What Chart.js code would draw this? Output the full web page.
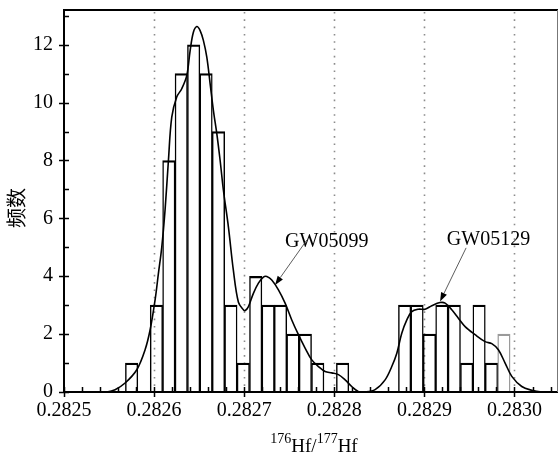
<!DOCTYPE html>
<html>
<head>
<meta charset="utf-8">
<script src="https://cdn.jsdelivr.net/npm/chart.js@4/dist/chart.umd.min.js"></script>
<style>
  html, body { margin: 0; padding: 0; background: #fff; }
  #histChart { display: block; }
</style>
</head>
<body>
<canvas id="histChart" width="559" height="454"></canvas>
<script>
// histogram bins (centres) and counts
const binCenters = [
  0.28257504, 0.28258881, 0.28260259, 0.28261636, 0.28263014, 0.28264391,
  0.28265769, 0.28267146, 0.28268524, 0.28269901, 0.28271278, 0.28272656,
  0.28274033, 0.28275411, 0.28276788, 0.28278166, 0.28279543, 0.28280921,
  0.28282298, 0.28283675, 0.28285053, 0.28286430, 0.28287808, 0.28289185,
  0.28290563, 0.28291940, 0.28293318, 0.28294695, 0.28296072, 0.28297450,
  0.28298827
];
const binCounts = [1, 0, 3, 8, 11, 12, 11, 9, 3, 1, 4, 3, 3, 2, 2, 1, 0, 1, 0, 0, 0, 0, 3, 3, 2, 3, 3, 1, 3, 1, 2];

// smoothed density curve
const curveX = [
  0.2825400, 0.2825475, 0.2825567, 0.2825678, 0.2825808, 0.2825900, 0.2825956, 0.2826011,
  0.2826048, 0.2826085, 0.2826122, 0.2826159, 0.2826196, 0.2826252, 0.2826307, 0.2826363,
  0.2826400, 0.2826436, 0.2826474, 0.2826511, 0.2826547, 0.2826585, 0.2826622, 0.2826658,
  0.2826696, 0.2826733, 0.2826769, 0.2826825, 0.2826880, 0.2826936, 0.2826991, 0.2827010,
  0.2827047, 0.2827102, 0.2827158, 0.2827213, 0.2827251, 0.2827306, 0.2827380, 0.2827454,
  0.2827528, 0.2827602, 0.2827676, 0.2827750, 0.2827824, 0.2827898, 0.2827972, 0.2828046,
  0.2828120, 0.2828194, 0.2828267, 0.2828342, 0.2828453, 0.2828564, 0.2828638, 0.2828694,
  0.2828749, 0.2828805, 0.2828860, 0.2828933, 0.2829008, 0.2829082, 0.2829174, 0.2829230,
  0.2829304, 0.2829377, 0.2829452, 0.2829563, 0.2829674, 0.2829748, 0.2829821, 0.2829896,
  0.2829970, 0.2830081, 0.2830192, 0.2830303, 0.2830400
];
const curveY = [
  0, 0, 0.08, 0.31, 0.77, 1.46, 2.15, 3.18,
  4.1, 5.0, 6.3, 8.0, 9.5, 10.2, 10.48, 10.94,
  11.8, 12.43, 12.63, 12.49, 12.15, 11.57, 10.65, 9.73,
  8.93, 8.0, 6.98, 5.7, 4.2, 3.1, 2.84, 2.81,
  2.95, 3.41, 3.76, 3.97, 3.99, 3.87, 3.53, 3.07,
  2.49, 1.98, 1.52, 1.11, 0.88, 0.71, 0.66, 0.6,
  0.42, 0.19, 0.02, 0, 0.08, 0.42, 0.88, 1.34,
  2.03, 2.49, 2.78, 2.86, 2.86, 2.98, 3.09, 3.07,
  2.84, 2.55, 2.26, 1.98, 1.74, 1.67, 1.46, 1.0,
  0.54, 0.19, 0.06, 0, 0
];

const sampleNames = ['GW05099', 'GW05129'];

// where the sample labels and their arrows sit (data units)
const notes = [
  { text: sampleNames[0], tx: 0.2827454, ty: 5.01, fromX: 0.2827695, fromY: 5.25, toX: 0.2827343, toY: 3.7 },
  { text: sampleNames[1], tx: 0.2829249, ty: 5.08, fromX: 0.2829463, fromY: 4.98, toX: 0.2829174, toY: 3.13 }
];

const serif = '"Liberation Serif", "Times New Roman", serif';

function drawArrow(ctx, x1, y1, x2, y2) {
  const ang = Math.atan2(y2 - y1, x2 - x1);
  const len = 9, half = 3.2;
  const bx = x2 - Math.cos(ang) * len, by = y2 - Math.sin(ang) * len;
  ctx.beginPath();
  ctx.moveTo(x1, y1);
  ctx.lineTo(bx, by);
  ctx.stroke();
  ctx.beginPath();
  ctx.moveTo(x2, y2);
  ctx.lineTo(bx - Math.sin(ang) * half, by + Math.cos(ang) * half);
  ctx.lineTo(bx + Math.sin(ang) * half, by - Math.cos(ang) * half);
  ctx.closePath();
  ctx.fill();
}

const decor = {
  id: 'decor',
  beforeDatasetsDraw(chart) {
    const { ctx, chartArea: a, scales: { x } } = chart;
    ctx.save();
    ctx.strokeStyle = '#8c8c8c';
    ctx.lineWidth = 1.6;
    ctx.setLineDash([1.6, 5.7]);
    x.ticks.forEach(t => {
      if (t.value <= x.min + 1e-9) return;
      const px = Math.round(x.getPixelForValue(t.value)) + 0.5;
      ctx.beginPath();
      ctx.moveTo(px, a.top + 2);
      ctx.lineTo(px, a.bottom);
      ctx.stroke();
    });
    ctx.restore();
  },
  afterDraw(chart) {
    const { ctx, chartArea: a, scales: { x, y } } = chart;
    ctx.save();

    // frame
    ctx.strokeStyle = '#000';
    ctx.lineWidth = 2;
    ctx.beginPath();
    ctx.moveTo(a.left, a.bottom);
    ctx.lineTo(a.left, a.top);
    ctx.lineTo(a.right, a.top);
    ctx.moveTo(a.left, a.bottom);
    ctx.lineTo(a.right, a.bottom);
    ctx.stroke();
    ctx.strokeStyle = '#777';
    ctx.lineWidth = 1;
    ctx.beginPath();
    ctx.moveTo(a.right - 0.5, a.top);
    ctx.lineTo(a.right - 0.5, a.bottom);
    ctx.stroke();

    // tick marks: major cross the axis, minor point inward
    ctx.strokeStyle = '#000';
    ctx.lineWidth = 1.5;
    ctx.beginPath();
    for (let i = 0; i <= 27; i++) {
      const v = x.min + i * 0.00002;
      if (v > x.max) break;
      const px = Math.round(x.getPixelForValue(v)) + 0.5;
      const major = i % 5 === 0;
      ctx.moveTo(px, a.bottom + (major ? 5 : 0));
      ctx.lineTo(px, a.bottom - 5);
    }
    for (let v = 0; v <= 13; v++) {
      const py = Math.round(y.getPixelForValue(v)) + 0.5;
      const major = v % 2 === 0;
      ctx.moveTo(a.left - (major ? 5 : 0), py);
      ctx.lineTo(a.left + 5, py);
    }
    ctx.stroke();

    // sample labels with arrows
    ctx.fillStyle = '#000';
    ctx.strokeStyle = '#333';
    ctx.lineWidth = 0.8;
    ctx.font = '20px ' + serif;
    ctx.textAlign = 'left';
    ctx.textBaseline = 'alphabetic';
    notes.forEach(n => {
      ctx.fillText(n.text, x.getPixelForValue(n.tx), y.getPixelForValue(n.ty));
      drawArrow(ctx,
        x.getPixelForValue(n.fromX), y.getPixelForValue(n.fromY),
        x.getPixelForValue(n.toX), y.getPixelForValue(n.toY));
    });

    // x title: 176Hf/177Hf
    const parts = [['176', true], ['Hf/', false], ['177', true], ['Hf', false]];
    const big = '19px ' + serif, small = '14px ' + serif;
    let total = 0;
    parts.forEach(p => { ctx.font = p[1] ? small : big; total += ctx.measureText(p[0]).width; });
    let cx = (a.left + a.right) / 2 + 3 - total / 2;
    parts.forEach(p => {
      ctx.font = p[1] ? small : big;
      ctx.fillText(p[0], cx, p[1] ? 443 : 452);
      cx += ctx.measureText(p[0]).width;
    });

    // y title
    ctx.translate(16, 208);
    ctx.rotate(-Math.PI / 2);
    ctx.font = '20px "Noto Sans CJK SC", sans-serif';
    ctx.textAlign = 'center';
    ctx.textBaseline = 'middle';
    ctx.fillText('频数', 0, 0);
    ctx.restore();
  }
};

Chart.defaults.font.family = serif;
Chart.defaults.font.size = 20;
Chart.defaults.color = '#000';

const ctx = document.getElementById('histChart').getContext('2d');
const histChart = new Chart(ctx, {
  type: 'bar',
  data: {
    datasets: [{
      type: 'line',
      data: curveX.map((v, i) => ({ x: v, y: curveY[i] })),
      borderColor: '#000',
      borderWidth: 1.6,
      pointRadius: 0,
      tension: 0.35,
      fill: false,
      order: 0
    }, {
      type: 'bar',
      data: binCenters.map((v, i) => ({ x: v, y: binCounts[i] })),
      backgroundColor: 'rgba(0,0,0,0)',
      borderColor: binCounts.map((c, i) => i === binCounts.length - 1 ? '#9a9a9a' : '#000'),
      borderWidth: { top: 1.6, left: 0.8, right: 0.8, bottom: 0 },
      borderSkipped: false,
      barPercentage: 1,
      categoryPercentage: 1,
      order: 1
    }]
  },
  options: {
    responsive: false,
    animation: false,
    layout: { padding: { top: 10, right: 1, left: 0, bottom: 0 } },
    plugins: { legend: { display: false }, tooltip: { enabled: false } },
    scales: {
      x: {
        type: 'linear',
        min: 0.2825,
        max: 0.2830483,
        offset: false,
        grid: { display: false, drawTicks: false, offset: false },
        border: { display: false },
        ticks: {
          stepSize: 0.0001,
          includeBounds: false,
          maxRotation: 0,
          autoSkip: false,
          padding: 7,
          callback: v => Number(v).toFixed(4)
        },
        afterFit: s => { s.height = 62; s.paddingLeft = 0; s.paddingRight = 0; }
      },
      y: {
        min: 0,
        max: 13.2,
        grid: { display: false, drawTicks: false },
        border: { display: false },
        ticks: { stepSize: 2, includeBounds: false, padding: 11 },
        afterFit: s => { s.width = 64; s.paddingTop = 0; s.paddingBottom = 0; }
      }
    }
  },
  plugins: [decor]
});
</script>
</body>
</html>
